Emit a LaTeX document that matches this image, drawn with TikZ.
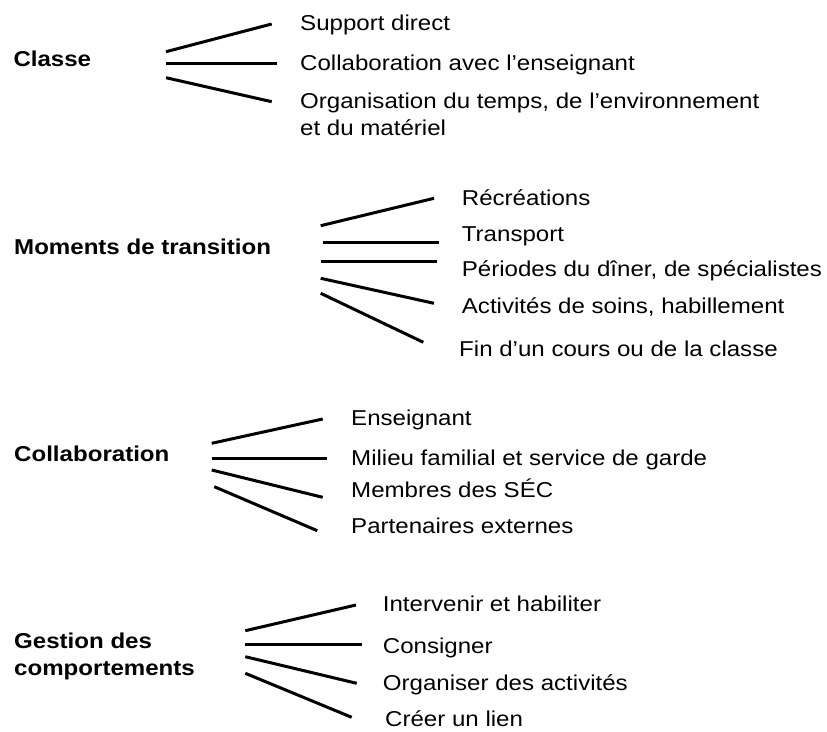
\documentclass[tikz,border=0pt]{standalone}
\usepackage{fontspec}
\setmainfont{Liberation Sans}[FakeStretch=1.12]
\begin{document}
\begin{tikzpicture}[x=1pt,y=-1pt,
  lbl/.style={anchor=base west,inner sep=0pt,font=\fontsize{21.5}{26.7}\selectfont},
  head/.style={lbl,font=\fontsize{21.5}{26.7}\selectfont\bfseries,align=left},
  sub/.style={lbl,align=left},
  ray/.style={line width=3pt}]
\useasboundingbox (0,0) rectangle (827,731);
% Group 1
\node[head] (classe) at (13.3,66.7) {Classe};
\node[sub] (c1) at (300,30.5) {Support direct};
\node[sub] (c2) at (300,70.5) {Collaboration avec l’enseignant};
\node[sub] (c3) at (300,135) {Organisation du temps, de l’environnement\\et du matériel};
\coordinate (a1s) at (166,51.7); \coordinate (a1e) at (271.7,24);
\coordinate (a2s) at (166,63.3); \coordinate (a2e) at (276.7,63.3);
\coordinate (a3s) at (166,77.7); \coordinate (a3e) at (271.7,101.7);
\draw[ray] (a1s) -- (a1e);
\draw[ray] (a2s) -- (a2e);
\draw[ray] (a3s) -- (a3e);
% Group 2
\node[head] (moments) at (14,254.3) {Moments de transition};
\node[sub] (m1) at (461.7,205) {Récréations};
\node[sub] (m2) at (461.7,241) {Transport};
\node[sub] (m3) at (461.7,276.7) {Périodes du dîner, de spécialistes};
\node[sub] (m4) at (461.7,313.3) {Activités de soins, habillement};
\node[sub] (m5) at (459,356.7) {Fin d’un cours ou de la classe};
\coordinate (b1s) at (320.7,225.7); \coordinate (b1e) at (434,198.3);
\coordinate (b2s) at (323.3,242.3); \coordinate (b2e) at (438.7,242.3);
\coordinate (b3s) at (320.7,261.7); \coordinate (b3e) at (436.7,261.7);
\coordinate (b4s) at (320.7,278.3); \coordinate (b4e) at (434,303.3);
\coordinate (b5s) at (320.7,293.3); \coordinate (b5e) at (423.3,342.3);
\draw[ray] (b1s) -- (b1e);
\draw[ray] (b2s) -- (b2e);
\draw[ray] (b3s) -- (b3e);
\draw[ray] (b4s) -- (b4e);
\draw[ray] (b5s) -- (b5e);
% Group 3
\node[head] (collab) at (14,461.5) {Collaboration};
\node[sub] (k1) at (351,425) {Enseignant};
\node[sub] (k2) at (351,465) {Milieu familial et service de garde};
\node[sub] (k3) at (351,497.7) {Membres des SÉC};
\node[sub] (k4) at (351,533.3) {Partenaires externes};
\coordinate (d1s) at (211.7,443.3); \coordinate (d1e) at (322.7,419);
\coordinate (d2s) at (211.7,458.3); \coordinate (d2e) at (327.3,458.3);
\coordinate (d3s) at (211.7,470); \coordinate (d3e) at (322.7,497.3);
\coordinate (d4s) at (214.3,486.7); \coordinate (d4e) at (317.3,530.7);
\draw[ray] (d1s) -- (d1e);
\draw[ray] (d2s) -- (d2e);
\draw[ray] (d3s) -- (d3e);
\draw[ray] (d4s) -- (d4e);
% Group 4
\node[head] (gestion) at (14,675) {Gestion des\\comportements};
\node[sub] (g1) at (382.7,611.7) {Intervenir et habiliter};
\node[sub] (g2) at (382.7,653.3) {Consigner};
\node[sub] (g3) at (382.7,690) {Organiser des activités};
\node[sub] (g4) at (385,726.5) {Créer un lien};
\coordinate (e1s) at (245.3,630.7); \coordinate (e1e) at (356,605);
\coordinate (e2s) at (245.3,644); \coordinate (e2e) at (361.7,644);
\coordinate (e3s) at (245.3,656.7); \coordinate (e3e) at (356.7,683.3);
\coordinate (e4s) at (245.3,673.3); \coordinate (e4e) at (351.7,717.3);
\draw[ray] (e1s) -- (e1e);
\draw[ray] (e2s) -- (e2e);
\draw[ray] (e3s) -- (e3e);
\draw[ray] (e4s) -- (e4e);
\end{tikzpicture}
\end{document}
